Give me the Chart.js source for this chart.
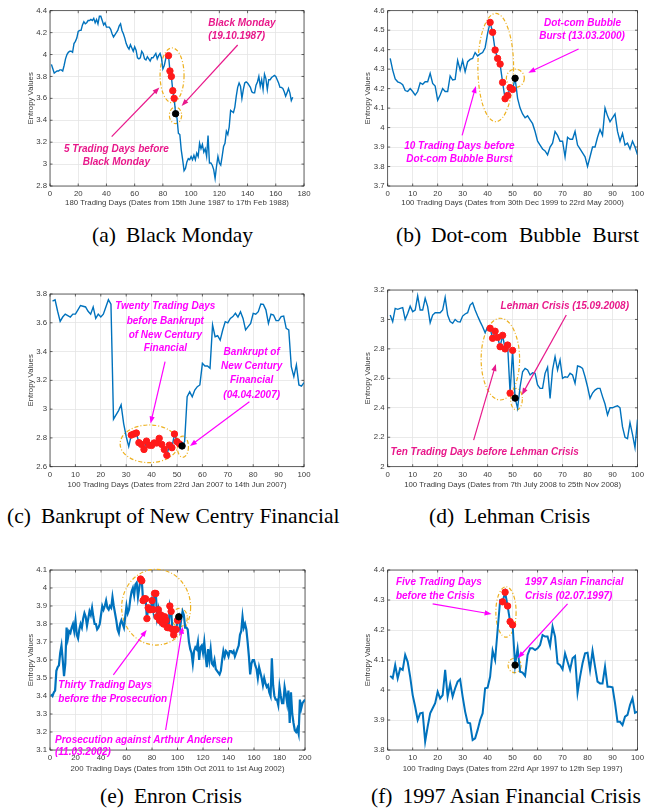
<!DOCTYPE html>
<html lang="en">
<head>
<meta charset="UTF-8">
<title>Entropy values around market crises</title>
<script src="https://cdn.jsdelivr.net/npm/chart.js"></script>
<style>
  body { margin: 0; width: 647px; height: 811px; position: relative; background: #fff; overflow: hidden; }
  canvas { position: absolute; }
  .caption { position: absolute; font-family: "Liberation Serif", "Times New Roman", serif; font-size: 21.5px; color: #000; white-space: nowrap; line-height: 1; }
  .caption b { font-weight: normal; margin-right: 10px; }
</style>
</head>
<body>

<canvas id="chartA" width="320" height="215" style="left:0;top:0"></canvas>
<canvas id="chartB" width="327" height="215" style="left:320px;top:0"></canvas>
<canvas id="chartC" width="320" height="230" style="left:0;top:260px"></canvas>
<canvas id="chartD" width="327" height="230" style="left:320px;top:260px"></canvas>
<canvas id="chartE" width="320" height="245" style="left:0;top:530px"></canvas>
<canvas id="chartF" width="327" height="245" style="left:320px;top:530px"></canvas>

<div class="caption" style="left:92px;top:225px"><b>(a)</b>Black Monday</div>
<div class="caption" style="left:396px;top:225px;word-spacing:6px"><b>(b)</b>Dot-com Bubble Burst</div>
<div class="caption" style="left:7px;top:506px"><b>(c)</b>Bankrupt of New Centry Financial</div>
<div class="caption" style="left:429px;top:506px"><b>(d)</b>Lehman Crisis</div>
<div class="caption" style="left:100px;top:786px"><b>(e)</b>Enron Crisis</div>
<div class="caption" style="left:371px;top:786px"><b>(f)</b>1997 Asian Financial Crisis</div>

<script>
// ---- data ----
const valuesA = [
  3.91, 3.87, 3.83, 3.84, 3.85, 3.85, 3.86, 3.86, 3.85, 3.90,
  3.96, 4.00, 4.02, 4.03, 4.03, 4.02, 4.10, 4.12, 4.15, 4.21,
  4.22, 4.22, 4.27, 4.30, 4.28, 4.29, 4.31, 4.31, 4.32, 4.31,
  4.33, 4.29, 4.32, 4.28, 4.35, 4.35, 4.31, 4.27, 4.29, 4.25,
  4.25, 4.25, 4.23, 4.19, 4.16, 4.18, 4.20, 4.22, 4.26, 4.28,
  4.22, 4.19, 4.15, 4.10, 4.07, 4.05, 4.09, 4.06, 4.03, 4.07,
  4.04, 3.97, 3.96, 3.97, 4.03, 4.01, 3.96, 3.95, 3.98, 3.96,
  3.94, 3.97, 3.97, 3.99, 4.01, 3.96, 3.99, 4.01, 3.97, 3.87,
  3.90, 3.96, 4.00, 3.99, 3.85, 3.80, 3.67, 3.60, 3.46, 3.42,
  3.28, 3.27, 3.13, 3.04, 2.94, 2.96, 3.02, 3.05, 3.04, 3.07,
  3.04, 3.08, 3.04, 3.10, 3.07, 3.19, 3.14, 3.18, 3.11, 3.14,
  3.07, 3.26, 3.01, 3.01, 2.99, 2.95, 2.87, 2.98, 3.07, 3.01,
  2.99, 3.07, 3.16, 3.19, 3.30, 3.27, 3.34, 3.49, 3.48, 3.47,
  3.52, 3.62, 3.70, 3.74, 3.71, 3.60, 3.68, 3.74, 3.75, 3.74,
  3.72, 3.70, 3.66, 3.65, 3.65, 3.72, 3.75, 3.80, 3.71, 3.77,
  3.68, 3.82, 3.78, 3.68, 3.77, 3.77, 3.79, 3.80, 3.81, 3.80,
  3.77, 3.74, 3.70, 3.70, 3.69, 3.66, 3.62, 3.65, 3.69, 3.65,
  3.58, 3.61
];
const redDaysA = [84, 85, 86, 87, 88];
const crisisDayA = 89;
const xTicksA = [0, 20, 40, 60, 80, 100, 120, 140, 160, 180];
const yTicksA = [2.8, 3, 3.2, 3.4, 3.6, 3.8, 4, 4.2, 4.4];

const valuesB = [
  4.355, 4.295, 4.25, 4.235, 4.23, 4.22, 4.19, 4.185, 4.20, 4.185,
  4.167, 4.185, 4.23, 4.222, 4.235, 4.235, 4.278, 4.227, 4.213, 4.14,
  4.167, 4.20, 4.185, 4.185, 4.265, 4.244, 4.247, 4.345, 4.295, 4.345,
  4.287, 4.338, 4.35, 4.355, 4.385, 4.368, 4.378, 4.385, 4.41, 4.484,
  4.54, 4.489, 4.398, 4.355, 4.326, 4.232, 4.148, 4.165, 4.205, 4.196,
  4.253, 4.15, 4.10, 4.07, 4.05, 4.06, 4.04, 4.02, 3.98, 3.93,
  3.91, 3.89, 3.88, 3.86, 3.90, 3.92, 3.98, 3.96, 3.93, 3.93,
  3.85, 3.95, 3.94, 3.94, 3.98, 3.91, 3.89, 3.87, 3.85, 3.80,
  3.85, 3.90, 3.90, 3.95, 3.99, 3.96, 4.10, 4.06, 4.03, 4.05,
  4.07, 3.98, 3.93, 3.97, 3.91, 3.92, 3.89, 3.93, 3.90, 3.86
];
const redDaysB = [41, 42, 43, 44, 45, 46, 47, 48, 49, 50];
const crisisDayB = 51;
const xTicks100 = [0, 10, 20, 30, 40, 50, 60, 70, 80, 90, 100];
const yTicksB = [3.7, 3.8, 3.9, 4, 4.1, 4.2, 4.3, 4.4, 4.5, 4.6];

const valuesC = [
  3.75, 3.76, 3.68, 3.61, 3.64, 3.66, 3.65, 3.64, 3.66, 3.66,
  3.69, 3.72, 3.715, 3.71, 3.68, 3.66, 3.71, 3.63, 3.66, 3.64,
  3.66, 3.71, 3.76, 3.73, 2.93, 2.96, 2.99, 3.03, 2.90, 2.81,
  2.74, 2.82, 2.827, 2.834, 2.767, 2.755, 2.72, 2.778, 2.75, 2.748,
  2.765, 2.765, 2.797, 2.755, 2.72, 2.679, 2.75, 2.732, 2.827, 2.774,
  2.758, 2.744, 2.774, 3.086, 3.12, 3.086, 3.133, 3.156, 3.168, 3.318,
  3.30, 3.30, 3.284, 3.585, 3.503, 3.51, 3.48, 3.55, 3.608, 3.60,
  3.63, 3.643, 3.666, 3.64, 3.677, 3.63, 3.55, 3.573, 3.596, 3.666,
  3.66, 3.677, 3.73, 3.728, 3.69, 3.596, 3.66, 3.654, 3.615, 3.615,
  3.643, 3.647, 3.561, 3.55, 3.295, 3.226, 3.307, 3.168, 3.16, 3.184
];
const redDaysC = [32, 33, 34, 35, 36, 37, 38, 39, 40, 41, 42, 43, 44, 45, 46, 47, 48, 49, 50, 51];
const crisisDayC = 52;
const yTicksC = [2.6, 2.8, 3, 3.2, 3.4, 3.6, 3.8];

const valuesD = [
  3.03, 2.985, 3.075, 3.069, 3.075, 3.08, 3.0, 3.04, 3.09, 3.053,
  3.064, 3.16, 3.064, 3.064, 3.143, 3.087, 2.978, 3.03, 3.046, 3.046,
  3.046, 3.064, 3.15, 3.03, 2.985, 2.974, 3.0, 2.985, 2.983, 3.023,
  3.037, 3.046, 3.098, 3.114, 3.064, 3.023, 2.985, 2.95, 2.91, 2.95,
  2.94, 2.872, 2.92, 2.878, 2.815, 2.892, 2.80, 2.826, 2.50, 2.79,
  2.466, 2.396, 2.543, 2.645, 2.668, 2.657, 2.623, 2.638, 2.634, 2.555,
  2.532, 2.532, 2.634, 2.675, 2.464, 2.657, 2.747, 2.657, 2.725, 2.60,
  2.611, 2.607, 2.634, 2.623, 2.566, 2.684, 2.679, 2.668, 2.611, 2.543,
  2.464, 2.50, 2.52, 2.532, 2.532, 2.476, 2.426, 2.351, 2.40, 2.40,
  2.408, 2.414, 2.40, 2.27, 2.20, 2.19, 2.30, 2.22, 2.13, 2.32
];
const redDaysD = [41, 42, 43, 44, 45, 46, 47, 48, 49, 50];
const crisisDayD = 51;
const yTicksD = [2, 2.2, 2.4, 2.6, 2.8, 3, 3.2];

const valuesE = [
  3.41, 3.40, 3.42, 3.43, 3.54, 3.56, 3.57, 3.64, 3.68, 3.60,
  3.51, 3.58, 3.78, 3.72, 3.76, 3.75, 3.78, 3.80, 3.76, 3.82,
  3.74, 3.72, 3.77, 3.80, 3.78, 3.83, 3.86, 3.84, 3.79, 3.83,
  3.87, 3.85, 3.89, 3.84, 3.80, 3.80, 3.77, 3.78, 3.80, 3.85,
  3.90, 3.88, 3.90, 3.93, 3.89, 3.88, 3.90, 3.89, 3.95, 3.90,
  3.86, 3.82, 3.77, 3.75, 3.80, 3.82, 3.80, 3.78, 3.84, 3.90,
  3.86, 3.88, 3.94, 3.98, 4.00, 3.96, 4.02, 4.03, 3.95, 4.00,
  4.05, 4.04, 3.93, 3.94, 3.94, 3.83, 3.89, 3.88, 3.88, 3.93,
  3.88, 3.97, 3.97, 3.84, 3.88, 3.82, 3.85, 3.81, 3.80, 3.84,
  3.82, 3.78, 3.78, 3.90, 3.87, 3.77, 3.74, 3.77, 3.77, 3.82,
  3.84, 3.78, 3.83, 3.87, 3.85, 3.78, 3.78, 3.77, 3.70, 3.66,
  3.64, 3.58, 3.65, 3.67, 3.66, 3.70, 3.60, 3.67, 3.68, 3.64,
  3.70, 3.62, 3.56, 3.66, 3.60, 3.66, 3.58, 3.57, 3.60, 3.55,
  3.54, 3.53, 3.52, 3.54, 3.60, 3.65, 3.62, 3.65, 3.64, 3.62,
  3.65, 3.65, 3.64, 3.65, 3.62, 3.64, 3.66, 3.68, 3.74, 3.76,
  3.84, 3.78, 3.80, 3.77, 3.70, 3.62, 3.52, 3.58, 3.60, 3.60,
  3.57, 3.55, 3.50, 3.56, 3.53, 3.50, 3.46, 3.50, 3.47, 3.45,
  3.46, 3.42, 3.40, 3.61, 3.46, 3.40, 3.38, 3.38, 3.35, 3.45,
  3.40, 3.36, 3.36, 3.45, 3.41, 3.36, 3.43, 3.25, 3.42, 3.30,
  3.25, 3.21, 3.20, 3.22, 3.19, 3.38, 3.33, 3.36, 3.37, 3.38
];
const redDaysE = [71, 72, 73, 74, 75, 76, 77, 78, 79, 80, 81, 82, 83, 84, 85,
                  86, 87, 88, 89, 90, 91, 92, 93, 94, 95, 96, 97, 98, 99, 100];
const crisisDayE = 101;
const xTicksE = [0, 20, 40, 60, 80, 100, 120, 140, 160, 180, 200];
const yTicksE = [3.1, 3.2, 3.3, 3.4, 3.5, 3.6, 3.7, 3.8, 3.9, 4, 4.1];

const valuesF = [
  4.047, 4.039, 4.083, 4.039, 4.072, 4.067, 4.117, 4.094, 4.044, 3.983,
  3.944, 3.90, 3.922, 3.924, 3.828, 3.878, 3.922, 3.939, 3.956, 3.994,
  3.972, 3.983, 4.067, 3.978, 4.02, 3.978, 4.006, 4.028, 4.036, 3.978,
  3.928, 3.891, 3.889, 3.833, 3.839, 3.867, 3.90, 3.922, 4.006, 4.008,
  4.044, 4.131, 4.10, 4.20, 4.298, 4.294, 4.326, 4.28, 4.228, 4.217,
  4.083, 4.139, 4.061, 4.058, 4.047, 4.117, 4.139, 4.139, 4.133, 4.139,
  4.15, 4.183, 4.178, 4.178, 4.147, 4.211, 4.178, 4.089, 4.083, 4.069,
  4.122, 4.094, 4.067, 4.106, 4.113, 3.991, 4.044, 4.089, 4.122, 4.124,
  4.067, 4.131, 4.078, 4.028, 4.022, 4.022, 4.078, 4.011, 4.011, 4.009,
  3.956, 3.894, 3.894, 3.883, 3.911, 3.917, 3.95, 3.972, 3.924, 3.928
];
const redDaysF = [46, 47, 48, 49, 50];
const crisisDayF = 51;
const yTicksF = [3.8, 3.9, 4, 4.1, 4.2, 4.3, 4.4];

// ---- styling ----
const SANS = '"Liberation Sans", Arial, sans-serif';
const PINK = '#e8198b';
const MAGENTA = '#ff00ff';
const ORANGE = '#edb120';
const BLUE = '#0072bd';

// ellipses: [x0, x1, y0, y1], arrows: [fromX, fromY, toX, toY], texts: [text, x, y, align]
const notesA = {
  color: PINK,
  ellipses: [[78, 95, 4.06, 3.56], [84.6, 93.3, 3.52, 3.37]],
  arrows: [[133, 4.087, 93.3, 3.53], [43.7, 3.25, 77.5, 3.70]],
  texts: [['Black Monday', 136, 4.29, 'center'], ['(19.10.1987)', 132.3, 4.169, 'center'],
          ['5 Trading Days before', 47, 3.138, 'center'], ['Black Monday', 47, 3.013, 'center']]
};
const notesB = {
  color: MAGENTA,
  ellipses: [[36.1, 50.4, 4.586, 4.03], [47.5, 54.7, 4.30, 4.206]],
  arrows: [[76.4, 4.403, 56.3, 4.282], [29.8, 3.96, 35.3, 4.213]],
  texts: [['Dot-com Bubble', 78, 4.535, 'center'], ['Burst (13.03.2000)', 77.8, 4.467, 'center'],
          ['10 Trading Days before', 28.7, 3.905, 'center'], ['Dot-com Bubble Burst', 28.7, 3.837, 'center']]
};
const notesC = {
  color: MAGENTA,
  ellipses: [[27.6, 50.5, 2.89, 2.628], [50.1, 54.5, 2.813, 2.665]],
  arrows: [[45.3, 3.33, 39.6, 2.90], [78.5, 3.052, 55.1, 2.744]],
  texts: [['Twenty Trading Days', 45.4, 3.712, 'center'], ['before Bankrupt', 45.4, 3.612, 'center'],
          ['of New Century', 45.4, 3.515, 'center'], ['Financial', 45.4, 3.422, 'center'],
          ['Bankrupt of', 79.4, 3.392, 'center'], ['New Century', 79.4, 3.295, 'center'],
          ['Financial', 79.4, 3.198, 'center'], ['(04.04.2007)', 79.4, 3.098, 'center']]
};
const notesD = {
  color: PINK,
  ellipses: [[37.4, 52.8, 3.008, 2.453], [49.2, 53.9, 2.532, 2.385]],
  arrows: [[71.5, 3.03, 53.7, 2.487], [34.4, 2.181, 43.3, 2.697]],
  texts: [['Lehman Crisis (15.09.2008)', 70.9, 3.091, 'center'],
          ['Ten Trading Days before Lehman Crisis', 38.8, 2.10, 'center']]
};
const notesE = {
  color: MAGENTA,
  ellipses: [[56.2, 110.3, 4.104, 3.683], [95.4, 107.7, 3.887, 3.785]],
  arrows: [[49.7, 3.517, 75.8, 3.767], [90.7, 3.211, 104, 3.785]],
  texts: [['Thirty Trading Days', 6.5, 3.461, 'left'], ['before the Prosecution', 6.5, 3.383, 'left'],
          ['Prosecution against Arthur Andersen', 3.9, 3.156, 'left'], ['(11.03.2002)', 3.9, 3.085, 'left']]
};
const notesF = {
  color: MAGENTA,
  ellipses: [[43.3, 51.4, 4.344, 4.176], [48.2, 53.4, 4.106, 4.058]],
  arrows: [[18, 4.287, 41.6, 4.253], [72, 4.287, 52.1, 4.106]],
  texts: [['Five Trading Days', 3.3, 4.358, 'left'], ['before the Crisis', 3.3, 4.313, 'left'],
          ['1997 Asian Financial', 55, 4.358, 'left'], ['Crisis (02.07.1997)', 55, 4.313, 'left']]
};

// frame, inward ticks, ellipses below the data; arrows and labels above it
const notesPlugin = {
  id: 'notes',
  beforeDatasetsDraw(chart, args, opts) {
    const { ctx, chartArea: a, scales: { x, y } } = chart;
    ctx.save();
    ctx.strokeStyle = '#262626';
    ctx.lineWidth = 0.7;
    ctx.strokeRect(a.left, a.top, a.right - a.left, a.bottom - a.top);
    ctx.beginPath();
    x.ticks.forEach(t => {
      const px = x.getPixelForValue(t.value);
      ctx.moveTo(px, a.bottom); ctx.lineTo(px, a.bottom - 2.5);
      ctx.moveTo(px, a.top); ctx.lineTo(px, a.top + 2.5);
    });
    y.ticks.forEach(t => {
      const py = y.getPixelForValue(t.value);
      ctx.moveTo(a.left, py); ctx.lineTo(a.left + 2.5, py);
      ctx.moveTo(a.right, py); ctx.lineTo(a.right - 2.5, py);
    });
    ctx.stroke();

    ctx.strokeStyle = ORANGE;
    ctx.lineWidth = 1.2;
    ctx.setLineDash([4, 2, 1, 2]);
    opts.ellipses.forEach(e => {
      const x0 = x.getPixelForValue(e[0]), x1 = x.getPixelForValue(e[1]);
      const y0 = y.getPixelForValue(e[2]), y1 = y.getPixelForValue(e[3]);
      ctx.beginPath();
      ctx.ellipse((x0 + x1) / 2, (y0 + y1) / 2, Math.abs(x1 - x0) / 2, Math.abs(y1 - y0) / 2, 0, 0, Math.PI * 2);
      ctx.stroke();
    });
    ctx.restore();
  },
  afterDatasetsDraw(chart, args, opts) {
    const { ctx, scales: { x, y } } = chart;
    ctx.save();
    ctx.strokeStyle = opts.color;
    ctx.fillStyle = opts.color;
    ctx.lineWidth = 1.2;
    opts.arrows.forEach(r => {
      const x0 = x.getPixelForValue(r[0]), y0 = y.getPixelForValue(r[1]);
      const x1 = x.getPixelForValue(r[2]), y1 = y.getPixelForValue(r[3]);
      const ang = Math.atan2(y1 - y0, x1 - x0);
      ctx.beginPath();
      ctx.moveTo(x0, y0);
      ctx.lineTo(x1 - 5 * Math.cos(ang), y1 - 5 * Math.sin(ang));
      ctx.stroke();
      ctx.beginPath();
      ctx.moveTo(x1, y1);
      ctx.lineTo(x1 - 7 * Math.cos(ang) + 2.6 * Math.sin(ang), y1 - 7 * Math.sin(ang) - 2.6 * Math.cos(ang));
      ctx.lineTo(x1 - 7 * Math.cos(ang) - 2.6 * Math.sin(ang), y1 - 7 * Math.sin(ang) + 2.6 * Math.cos(ang));
      ctx.closePath();
      ctx.fill();
    });
    ctx.font = 'italic bold 10px ' + SANS;
    ctx.textBaseline = 'middle';
    opts.texts.forEach(t => {
      ctx.textAlign = t[3];
      ctx.fillText(t[0], x.getPixelForValue(t[1]), y.getPixelForValue(t[2]));
    });
    ctx.restore();
  }
};

function days(values) {
  return values.map((v, i) => ({ x: i + 1, y: v }));
}

function drawPanel(id, p) {
  const canvas = document.getElementById(id);
  const W = canvas.width, H = canvas.height;
  const padLeft = p.yTitleX - 4.7;
  const axisBottom = p.xTitleY + 4.7;
  const tickFont = { family: SANS, size: 7.8 };
  new Chart(canvas, {
    type: 'line',
    data: {
      datasets: [
        { data: days(p.values), borderColor: BLUE, borderWidth: p.lineWidth, pointRadius: 0, tension: 0, order: 2 },
        { data: p.red.map(d => ({ x: d, y: p.values[d - 1] })), showLine: false, pointRadius: 3.2,
          pointBackgroundColor: '#ff1a1a', pointBorderColor: '#ff1a1a', order: 1 },
        { data: [{ x: p.crisis, y: p.values[p.crisis - 1] }], showLine: false, pointRadius: 3.2,
          pointBackgroundColor: '#000', pointBorderColor: '#000', order: 0 }
      ]
    },
    options: {
      responsive: false,
      animation: false,
      layout: { padding: { left: padLeft, top: p.area[1], right: W - p.area[2], bottom: H - axisBottom } },
      plugins: { legend: { display: false }, tooltip: { enabled: false }, notes: p.notes },
      scales: {
        x: {
          type: 'linear', min: p.xTicks[0], max: p.xTicks[p.xTicks.length - 1],
          afterBuildTicks: s => { s.ticks = p.xTicks.map(v => ({ value: v })); },
          afterFit: s => { s.height = axisBottom - p.area[3]; },
          grid: { color: '#e4e4e4', lineWidth: 0.8, drawTicks: false },
          border: { display: false },
          ticks: { padding: 3, font: tickFont, color: '#3a3a3a', maxRotation: 0, autoSkip: false, callback: v => String(v) },
          title: { display: true, text: p.xTitle, padding: 0, font: tickFont, color: '#3a3a3a' }
        },
        y: {
          type: 'linear', min: p.yTicks[0], max: p.yTicks[p.yTicks.length - 1],
          afterBuildTicks: s => { s.ticks = p.yTicks.map(v => ({ value: v })); },
          afterFit: s => { s.width = p.area[0] - padLeft; },
          grid: { color: '#e4e4e4', lineWidth: 0.8, drawTicks: false },
          border: { display: false },
          ticks: { padding: 3, font: tickFont, color: '#3a3a3a', autoSkip: false, callback: v => String(v) },
          title: { display: true, text: 'Entropy Values', padding: 0, font: tickFont, color: '#3a3a3a' }
        }
      }
    },
    plugins: [notesPlugin]
  });
}

drawPanel('chartA', { values: valuesA, red: redDaysA, crisis: crisisDayA, xTicks: xTicksA, yTicks: yTicksA,
  xTitle: '180 Trading Days (Dates from 15th June 1987 to 17th Feb 1988)', notes: notesA,
  area: [50, 10.7, 304, 186], yTitleX: 30.7, xTitleY: 203.3, lineWidth: 1.4 });
drawPanel('chartB', { values: valuesB, red: redDaysB, crisis: crisisDayB, xTicks: xTicks100, yTicks: yTicksB,
  xTitle: '100 Trading Days (Dates from 30th Dec 1999 to 22rd May 2000)', notes: notesB,
  area: [67.7, 10.7, 321.7, 186], yTitleX: 47.7, xTitleY: 203.3, lineWidth: 1.4 });
drawPanel('chartC', { values: valuesC, red: redDaysC, crisis: crisisDayC, xTicks: xTicks100, yTicks: yTicksC,
  xTitle: '100 Trading Days (Dates from 22rd Jan 2007 to 14th Jun 2007)', notes: notesC,
  area: [50, 34, 304, 206.7], yTitleX: 30.7, xTitleY: 225.3, lineWidth: 1.4 });
drawPanel('chartD', { values: valuesD, red: redDaysD, crisis: crisisDayD, xTicks: xTicks100, yTicks: yTicksD,
  xTitle: '100 Trading Days (Dates from 7th July 2008 to 25th Nov 2008)', notes: notesD,
  area: [67.7, 30, 321.7, 206.7], yTitleX: 47.7, xTitleY: 225.3, lineWidth: 1.4 });
drawPanel('chartE', { values: valuesE, red: redDaysE, crisis: crisisDayE, xTicks: xTicksE, yTicks: yTicksE,
  xTitle: '200 Trading Days (Dates from 15th Oct 2011 to 1st Aug 2002)', notes: notesE,
  area: [50, 40, 305, 220], yTitleX: 30.7, xTitleY: 238.7, lineWidth: 2.2 });
drawPanel('chartF', { values: valuesF, red: redDaysF, crisis: crisisDayF, xTicks: xTicks100, yTicks: yTicksF,
  xTitle: '100 Trading Days (Dates from 22rd Apr 1997 to 12th Sep 1997)', notes: notesF,
  area: [67.7, 40, 321.7, 220], yTitleX: 47.7, xTitleY: 238.7, lineWidth: 2.0 });
</script>
</body>
</html>
